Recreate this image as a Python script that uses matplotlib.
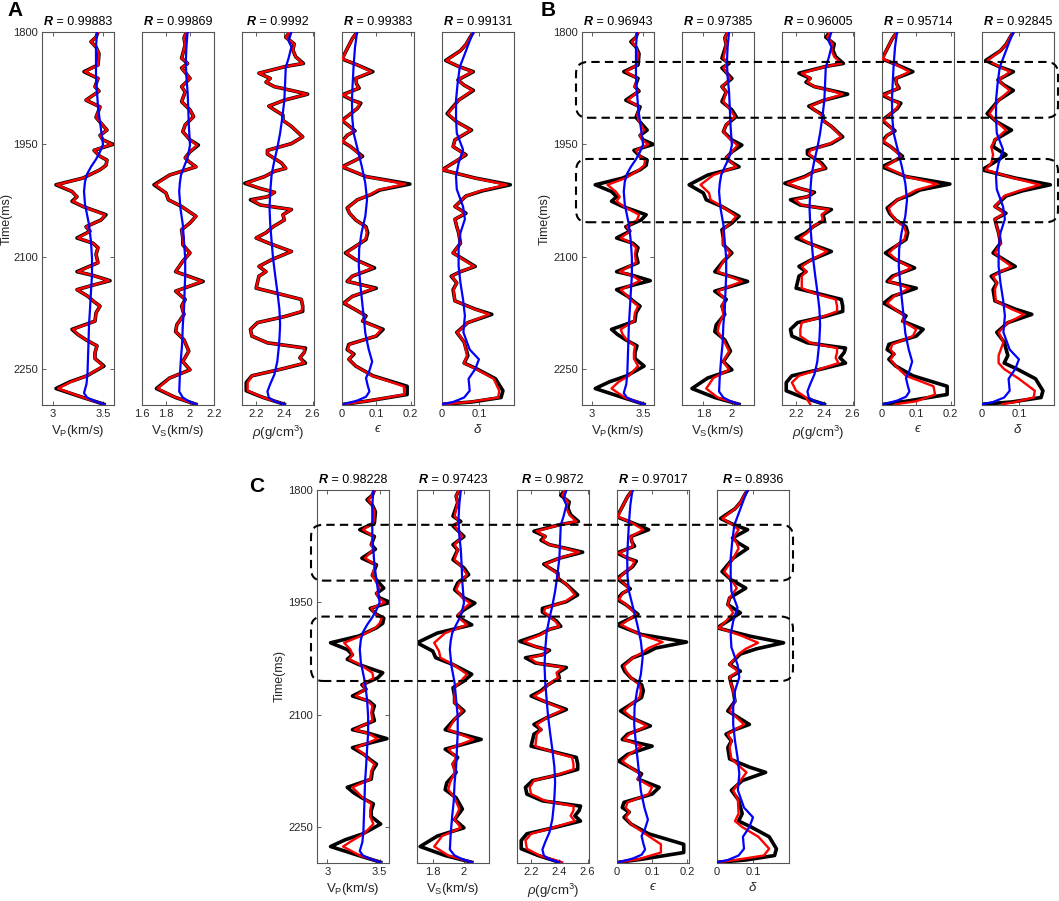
import matplotlib.pyplot as plt
from matplotlib.patches import FancyBboxPatch
from matplotlib.offsetbox import TextArea, HPacker, AnnotationBbox

plt.rcParams['font.family'] = ['Liberation Sans', 'DejaVu Sans']
plt.rcParams['mathtext.fontset'] = 'custom'
plt.rcParams['mathtext.rm'] = 'Liberation Sans'
plt.rcParams['mathtext.it'] = 'Liberation Sans:italic'
plt.rcParams['mathtext.bf'] = 'Liberation Sans:bold'

# ---- well logs (true = black, inverted = red, initial model = blue) ----
t_vp = [1800,1807,1813,1820,1829,1844,1853,1862,1873,1879,1891,1900,1914,1931,1938,1944,1950,1958,1966,1971,
        1978,1984,1995,2004,2013,2020,2026,2033,2044,2051,2060,2066,2075,2082,2088,2097,2108,2120,2125,2132,
        2138,2144,2153,2160,2166,2175,2186,2197,2204,2211,2219,2228,2236,2246,2259,2267,2276,2288,2297]
vp_true = [3.45,3.43,3.38,3.43,3.46,3.45,3.31,3.45,3.42,3.46,3.33,3.47,3.43,3.54,3.47,3.50,3.60,3.41,3.47,3.54,
           3.53,3.47,3.30,3.03,3.19,3.24,3.19,3.30,3.53,3.48,3.33,3.37,3.24,3.40,3.45,3.43,3.45,3.24,3.40,3.57,
           3.40,3.24,3.35,3.41,3.47,3.43,3.42,3.19,3.25,3.33,3.44,3.42,3.42,3.51,3.34,3.17,3.03,3.30,3.51]
vp_a = [3.45,3.43,3.38,3.43,3.46,3.45,3.32,3.45,3.42,3.46,3.33,3.47,3.43,3.54,3.47,3.50,3.59,3.41,3.47,3.54,
        3.53,3.47,3.30,3.04,3.19,3.24,3.20,3.30,3.52,3.48,3.33,3.37,3.25,3.40,3.45,3.43,3.45,3.25,3.40,3.56,
        3.40,3.24,3.35,3.41,3.47,3.43,3.42,3.20,3.25,3.33,3.44,3.42,3.42,3.50,3.34,3.18,3.05,3.30,3.51]
vp_b = [3.45,3.43,3.39,3.43,3.45,3.44,3.33,3.44,3.42,3.45,3.35,3.46,3.44,3.51,3.47,3.49,3.55,3.43,3.47,3.52,
        3.51,3.46,3.33,3.15,3.23,3.27,3.24,3.31,3.46,3.44,3.34,3.37,3.28,3.39,3.43,3.42,3.43,3.27,3.39,3.47,
        3.38,3.28,3.35,3.40,3.45,3.42,3.41,3.28,3.30,3.34,3.42,3.41,3.41,3.45,3.36,3.26,3.19,3.32,3.51]
vp_c = [3.45,3.43,3.39,3.43,3.45,3.44,3.34,3.44,3.42,3.44,3.36,3.46,3.43,3.50,3.47,3.49,3.55,3.42,3.46,3.52,
        3.50,3.46,3.32,3.16,3.22,3.24,3.21,3.31,3.43,3.44,3.34,3.36,3.27,3.39,3.43,3.42,3.43,3.26,3.39,3.48,
        3.38,3.27,3.35,3.40,3.45,3.42,3.41,3.24,3.29,3.34,3.42,3.41,3.41,3.44,3.35,3.25,3.15,3.31,3.51]
t_vp0 = [1800,1820,1840,1860,1880,1900,1920,1940,1950,1960,1970,1980,1990,2000,2013,2030,2057,2080,2102,2125,
         2146,2170,2191,2215,2235,2255,2270,2282,2288,2293,2297]
vp_init = [3.44,3.43,3.43,3.43,3.44,3.45,3.47,3.49,3.50,3.47,3.43,3.38,3.34,3.32,3.31,3.32,3.36,3.38,3.39,3.39,
           3.38,3.37,3.36,3.355,3.35,3.345,3.335,3.31,3.34,3.42,3.51]

t_vs = [1800,1808,1817,1835,1842,1848,1862,1873,1880,1893,1904,1913,1924,1933,1944,1951,1960,1968,1973,1980,
        1991,2004,2015,2024,2033,2046,2055,2064,2075,2084,2095,2106,2120,2133,2146,2157,2166,2177,2191,2200,
        2211,2226,2240,2251,2262,2276,2288,2297]
vs_true = [1.97,1.95,1.96,1.93,1.98,1.93,2.00,1.93,1.96,1.93,2.00,2.03,1.96,1.94,2.00,2.07,2.00,1.96,1.99,2.05,
           1.83,1.70,1.80,1.82,1.93,2.05,2.00,1.93,1.94,1.94,2.00,1.94,1.88,2.11,1.88,1.96,1.93,1.95,1.89,1.88,
           1.95,1.99,1.94,2.00,1.83,1.72,1.88,2.05]
vs_a = [1.97,1.95,1.96,1.93,1.98,1.93,2.00,1.93,1.96,1.93,2.00,2.03,1.96,1.94,2.00,2.06,2.00,1.96,1.99,2.05,
        1.83,1.71,1.80,1.82,1.93,2.05,2.00,1.93,1.94,1.94,2.00,1.94,1.88,2.10,1.88,1.96,1.93,1.95,1.89,1.88,
        1.95,1.99,1.94,2.00,1.83,1.73,1.88,2.05]
vs_b = [1.97,1.95,1.96,1.94,1.97,1.94,1.99,1.93,1.96,1.94,1.99,2.02,1.96,1.94,1.99,2.04,2.00,1.96,1.99,2.03,
        1.87,1.78,1.84,1.85,1.93,2.03,1.99,1.94,1.94,1.94,1.99,1.94,1.90,2.07,1.90,1.95,1.93,1.94,1.91,1.90,
        1.94,1.98,1.94,1.98,1.87,1.82,1.90,2.05]
vs_c = [1.97,1.95,1.96,1.94,1.97,1.94,1.99,1.94,1.96,1.94,1.99,2.02,1.97,1.95,1.99,2.04,1.99,1.96,1.98,2.02,
        1.88,1.81,1.84,1.85,1.93,2.02,1.98,1.94,1.94,1.94,1.99,1.94,1.90,2.06,1.90,1.95,1.93,1.94,1.91,1.90,
        1.94,1.97,1.94,1.98,1.86,1.81,1.90,2.05]
t_vs0 = [1800,1820,1840,1860,1880,1900,1924,1951,1968,1980,1991,2002,2013,2035,2057,2080,2102,2125,2146,2170,
         2191,2215,2235,2260,2280,2288,2293,2297]
vs_init = [1.98,1.97,1.965,1.97,1.98,1.985,1.99,2.00,1.98,1.95,1.925,1.915,1.91,1.92,1.94,1.95,1.96,1.96,1.955,1.95,
           1.94,1.935,1.925,1.915,1.91,1.94,1.99,2.05]

t_rho = [1800,1807,1816,1824,1833,1842,1846,1855,1862,1867,1873,1878,1883,1891,1899,1904,1911,1918,1926,1940,
         1949,1958,1963,1970,1975,1982,1986,1993,2002,2009,2014,2020,2024,2031,2037,2044,2051,2060,2068,2075,
         2082,2093,2104,2113,2120,2126,2142,2149,2157,2166,2173,2180,2188,2197,2206,2215,2222,2228,2235,2242,
         2250,2259,2268,2279,2288,2297]
rho_true = [2.44,2.41,2.47,2.46,2.48,2.535,2.41,2.22,2.30,2.27,2.33,2.45,2.565,2.40,2.29,2.33,2.39,2.39,2.45,2.53,
            2.45,2.28,2.28,2.34,2.38,2.41,2.33,2.26,2.12,2.23,2.33,2.28,2.16,2.23,2.45,2.39,2.40,2.32,2.27,2.20,
            2.29,2.45,2.31,2.22,2.27,2.22,2.20,2.35,2.52,2.53,2.53,2.40,2.21,2.16,2.17,2.28,2.55,2.54,2.51,2.55,
            2.38,2.17,2.13,2.13,2.25,2.40]
rho_a = [2.44,2.41,2.47,2.46,2.48,2.53,2.41,2.22,2.30,2.27,2.33,2.45,2.56,2.40,2.29,2.33,2.39,2.39,2.45,2.53,
         2.45,2.28,2.28,2.34,2.38,2.41,2.33,2.26,2.13,2.23,2.33,2.28,2.17,2.23,2.45,2.39,2.40,2.32,2.27,2.20,
         2.29,2.45,2.31,2.22,2.27,2.22,2.20,2.35,2.52,2.53,2.52,2.40,2.21,2.16,2.17,2.28,2.54,2.54,2.51,2.54,
         2.38,2.17,2.14,2.14,2.25,2.40]
rho_b = [2.44,2.42,2.46,2.45,2.47,2.52,2.41,2.24,2.30,2.28,2.33,2.44,2.53,2.40,2.30,2.33,2.38,2.39,2.45,2.52,
         2.44,2.30,2.29,2.34,2.37,2.40,2.33,2.27,2.14,2.23,2.32,2.28,2.19,2.24,2.43,2.38,2.39,2.32,2.28,2.23,
         2.29,2.42,2.31,2.24,2.27,2.24,2.24,2.33,2.48,2.49,2.49,2.39,2.24,2.23,2.23,2.30,2.49,2.49,2.48,2.50,
         2.37,2.22,2.17,2.20,2.27,2.30]
rho_c = [2.44,2.42,2.46,2.45,2.47,2.52,2.41,2.24,2.30,2.28,2.33,2.44,2.54,2.40,2.30,2.33,2.38,2.39,2.45,2.51,
         2.44,2.30,2.29,2.34,2.37,2.40,2.33,2.27,2.15,2.23,2.32,2.28,2.19,2.24,2.43,2.38,2.39,2.32,2.28,2.22,
         2.29,2.43,2.31,2.24,2.27,2.24,2.23,2.34,2.49,2.50,2.50,2.39,2.22,2.19,2.20,2.30,2.50,2.50,2.48,2.51,
         2.37,2.20,2.16,2.17,2.26,2.42]
t_rho0 = [1800,1806,1812,1820,1835,1847,1870,1891,1915,1935,1955,1971,1990,2013,2035,2057,2080,2102,2125,2146,
          2170,2191,2210,2222,2240,2257,2270,2280,2288,2293,2297]
rho_init = [2.45,2.44,2.43,2.45,2.43,2.41,2.405,2.40,2.385,2.37,2.35,2.33,2.31,2.30,2.295,2.30,2.31,2.32,2.335,2.35,
            2.365,2.37,2.365,2.36,2.35,2.33,2.30,2.28,2.29,2.33,2.40]

t_eps = [1800,1809,1818,1827,1836,1844,1853,1862,1869,1875,1884,1891,1895,1902,1911,1918,1926,1932,1938,1946,
         1953,1966,1971,1980,1993,2003,2011,2017,2024,2035,2042,2051,2060,2068,2077,2086,2095,2104,2115,2126,
         2133,2142,2153,2162,2171,2179,2186,2197,2206,2217,2224,2230,2237,2246,2259,2273,2284,2293,2297]
eps_true = [0.044,0.03,0.02,0.01,0.0,0.045,0.09,0.04,0.042,0.05,0.0,0.03,0.055,0.045,0.02,0.0,0.022,0.038,0.015,0.0,
            0.025,0.06,0.04,0.0,0.07,0.198,0.11,0.085,0.045,0.015,0.022,0.04,0.07,0.075,0.07,0.04,0.01,0.04,0.095,0.03,
            0.015,0.1,0.03,0.005,0.04,0.07,0.06,0.12,0.1,0.02,0.015,0.035,0.02,0.04,0.09,0.19,0.19,0.07,0.005]
eps_a = [0.044,0.03,0.02,0.01,0.002,0.045,0.085,0.04,0.042,0.048,0.003,0.03,0.052,0.045,0.02,0.002,0.022,0.036,0.015,0.002,
         0.025,0.057,0.04,0.002,0.07,0.185,0.105,0.082,0.045,0.016,0.022,0.04,0.068,0.073,0.068,0.04,0.012,0.04,0.09,0.03,
         0.016,0.095,0.03,0.007,0.04,0.068,0.06,0.115,0.098,0.022,0.016,0.033,0.02,0.04,0.088,0.18,0.182,0.07,0.005]
eps_b = [0.044,0.03,0.02,0.01,0.003,0.043,0.08,0.04,0.042,0.047,0.005,0.03,0.05,0.043,0.02,0.005,0.022,0.034,0.015,0.005,
         0.025,0.055,0.04,0.01,0.07,0.162,0.1,0.075,0.045,0.02,0.025,0.04,0.065,0.07,0.065,0.04,0.02,0.042,0.085,0.035,
         0.02,0.08,0.035,0.015,0.04,0.065,0.06,0.1,0.09,0.03,0.025,0.035,0.025,0.04,0.07,0.15,0.155,0.1,0.04]
eps_c = [0.044,0.03,0.02,0.01,0.004,0.043,0.075,0.04,0.042,0.046,0.006,0.03,0.05,0.043,0.02,0.006,0.022,0.034,0.016,0.006,
         0.026,0.054,0.04,0.012,0.065,0.13,0.09,0.072,0.045,0.02,0.026,0.04,0.064,0.068,0.064,0.04,0.02,0.042,0.085,0.035,
         0.02,0.07,0.035,0.015,0.04,0.065,0.06,0.1,0.09,0.03,0.025,0.035,0.025,0.04,0.08,0.125,0.125,0.06,0.005]
t_eps0 = [1800,1820,1844,1870,1891,1915,1935,1950,1965,1980,2002,2024,2046,2068,2090,2113,2135,2157,2179,2202,
          2224,2240,2252,2262,2272,2280,2287,2292,2297]
eps_init = [0.044,0.038,0.034,0.031,0.029,0.03,0.034,0.042,0.05,0.058,0.068,0.073,0.068,0.057,0.05,0.049,0.053,0.058,0.063,0.068,
            0.078,0.088,0.08,0.07,0.075,0.08,0.07,0.045,0.005]

t_del = [1800,1808,1816,1825,1838,1846,1853,1864,1871,1878,1891,1909,1920,1931,1944,1953,1964,1975,1984,1995,
         2004,2012,2019,2033,2042,2050,2060,2068,2082,2095,2104,2113,2120,2126,2135,2144,2159,2170,2177,2188,
         2201,2214,2232,2242,2250,2263,2279,2288,2294,2297]
del_true = [0.085,0.075,0.066,0.05,0.01,0.045,0.085,0.043,0.06,0.085,0.045,0.014,0.04,0.08,0.035,0.03,0.065,0.03,0.0,0.09,
            0.185,0.11,0.065,0.035,0.065,0.035,0.04,0.045,0.05,0.03,0.06,0.09,0.05,0.025,0.04,0.03,0.035,0.09,0.135,0.07,
            0.04,0.06,0.07,0.06,0.095,0.145,0.165,0.16,0.08,0.0]
del_a = [0.085,0.075,0.066,0.05,0.012,0.045,0.082,0.043,0.06,0.082,0.045,0.016,0.04,0.078,0.035,0.03,0.063,0.03,0.002,0.088,
         0.175,0.105,0.065,0.035,0.063,0.035,0.04,0.045,0.05,0.03,0.058,0.087,0.05,0.026,0.04,0.031,0.035,0.088,0.128,0.07,
         0.041,0.06,0.068,0.06,0.092,0.14,0.155,0.152,0.075,0.0]
del_b = [0.085,0.075,0.066,0.05,0.015,0.045,0.076,0.045,0.058,0.075,0.045,0.02,0.04,0.065,0.035,0.025,0.03,0.025,0.01,0.085,
         0.157,0.1,0.06,0.035,0.06,0.035,0.04,0.045,0.05,0.035,0.055,0.08,0.05,0.03,0.04,0.035,0.037,0.08,0.114,0.07,
         0.045,0.058,0.045,0.045,0.06,0.1,0.143,0.14,0.09,0.055]
del_c = [0.085,0.075,0.066,0.05,0.015,0.042,0.06,0.045,0.055,0.06,0.045,0.02,0.04,0.055,0.035,0.03,0.045,0.025,0.005,0.07,
         0.114,0.08,0.06,0.035,0.058,0.035,0.04,0.045,0.05,0.035,0.055,0.075,0.05,0.03,0.04,0.035,0.04,0.065,0.082,0.065,
         0.045,0.058,0.06,0.05,0.07,0.115,0.145,0.13,0.05,0.0]
t_del0 = [1800,1812,1825,1847,1870,1891,1915,1935,1957,1975,1993,2010,2033,2050,2068,2090,2113,2135,2157,2179,
          2201,2224,2237,2250,2263,2279,2288,2294,2297]
del_init = [0.085,0.075,0.065,0.048,0.042,0.038,0.038,0.04,0.057,0.045,0.038,0.04,0.057,0.062,0.05,0.045,0.045,0.05,0.057,0.062,
            0.058,0.075,0.1,0.09,0.072,0.075,0.06,0.03,0.0]

true_t = [t_vp, t_vs, t_rho, t_eps, t_del]
true_v = [vp_true, vs_true, rho_true, eps_true, del_true]
init_t = [t_vp0, t_vs0, t_rho0, t_eps0, t_del0]
init_v = [vp_init, vs_init, rho_init, eps_init, del_init]
red_v = {'A': [vp_a, vs_a, rho_a, eps_a, del_a],
         'B': [vp_b, vs_b, rho_b, eps_b, del_b],
         'C': [vp_c, vs_c, rho_c, eps_c, del_c]}

r_vals = {'A': ['0.99883', '0.99869', '0.9992', '0.99383', '0.99131'],
          'B': ['0.96943', '0.97385', '0.96005', '0.95714', '0.92845'],
          'C': ['0.98228', '0.97423', '0.9872', '0.97017', '0.8936']}

xlabels = ['V$_\\mathrm{P}$(km/s)', 'V$_\\mathrm{S}$(km/s)', '$\\rho$(g/cm$^3$)', '\u03f5', '$\\delta$']
xlims = {'A': [(2.89, 3.61), (1.6, 2.2), (2.1, 2.61), (0, 0.21), (0, 0.195)],
         'B': [(2.9, 3.607), (1.65, 2.155), (2.1, 2.61), (0, 0.21), (0, 0.195)],
         'C': [(2.9, 3.59), (1.7, 2.16), (2.1, 2.61), (0, 0.205), (0, 0.2)]}
xticks = {'A': [[3, 3.5], [1.6, 1.8, 2, 2.2], [2.2, 2.4, 2.6], [0, 0.1, 0.2], [0, 0.1]],
          'B': [[3, 3.5], [1.8, 2], [2.2, 2.4, 2.6], [0, 0.1, 0.2], [0, 0.1]],
          'C': [[3, 3.5], [1.8, 2], [2.2, 2.4, 2.6], [0, 0.1, 0.2], [0, 0.1]]}
time_ticks = [1800, 1950, 2100, 2250]
t_range = (1800, 2298)

# dashed boxes (time windows) in B and C
boxes = {'B': [(1840, 1914.5), (1969.5, 2054)],
         'C': [(1846.5, 1921), (1969, 2055)]}

W, H = 1059, 901
panel_pos = {'A': (42, 32), 'B': (582, 32), 'C': (317, 490)}   # left/top of first axis in px
ax_w, ax_h, step = 72, 373, 100
letter_pos = {'A': (15, 10), 'B': (548, 10), 'C': (257, 487)}
ylab_x = {'A': -0.40, 'B': -0.44, 'C': -0.43}

fig = plt.figure(figsize=(W / 100, H / 100), dpi=100)


def r_title(ax, val):
    ta1 = TextArea('R', textprops=dict(fontsize=9, fontweight='bold', fontstyle='italic'))
    ta2 = TextArea(' = ' + val, textprops=dict(fontsize=9))
    pack = HPacker(children=[ta1, ta2], align='baseline', pad=0, sep=0)
    ab = AnnotationBbox(pack, (0.5, 1.0), xycoords='axes fraction', box_alignment=(0.5, 0.0),
                        xybox=(0, 3), boxcoords='offset points', frameon=False, pad=0,
                        annotation_clip=False)
    ax.add_artist(ab)


def fmt(v):
    return ('%g' % v)


panel_axes = {}
for p in ['A', 'B', 'C']:
    x0, y0 = panel_pos[p]
    axs = []
    for i in range(5):
        ax = fig.add_axes([(x0 + step * i) / W, 1 - (y0 + ax_h) / H, ax_w / W, ax_h / H])
        ax.plot(true_v[i], true_t[i], color='black', lw=2.6, solid_joinstyle='round', zorder=2)
        ax.plot(red_v[p][i], true_t[i], color='#ff0000', lw=1.7, solid_joinstyle='round', zorder=3)
        ax.plot(init_v[i], init_t[i], color='#0000ff', lw=1.6, solid_joinstyle='round', zorder=4)
        ax.set_ylim(t_range[1], t_range[0])
        ax.set_xlim(*xlims[p][i])
        ax.set_xticks(xticks[p][i])
        ax.set_xticklabels([fmt(v) for v in xticks[p][i]])
        if i == 3:
            ax.set_xlabel(xlabels[i], fontsize=9.5, labelpad=3, color='#262626', fontstyle='italic')
        else:
            ax.set_xlabel(xlabels[i], fontsize=9.5, labelpad=3, color='#262626')
        ax.tick_params(axis='x', direction='in', top=True, length=3, width=0.6,
                       labelsize=8, colors='#444444', labelcolor='#262626', pad=3)
        if i == 0:
            ax.set_yticks(time_ticks)
            ax.tick_params(axis='y', direction='in', right=True, length=3, width=0.6,
                           labelsize=8, colors='#444444', labelcolor='#262626', pad=3)
            ax.set_ylabel('Time(ms)', fontsize=9, color='#262626')
            ax.yaxis.set_label_coords(ylab_x[p], 0.5)
        else:
            ax.set_yticks([])
        for s in ax.spines.values():
            s.set_color('#555555')
            s.set_linewidth(0.8)
        r_title(ax, r_vals[p][i])
        axs.append(ax)
    panel_axes[p] = axs
    lx, ly = letter_pos[p]
    fig.text(lx / W, 1 - ly / H, p, fontsize=15, fontweight='bold', ha='center', va='center')

# rounded dashed boxes spanning all five tracks
inv = fig.dpi_scale_trans.inverted()
for p, spans in boxes.items():
    axs = panel_axes[p]
    a0 = axs[0]
    xl = a0.get_position().x0 * W / 100 - 0.06
    xr = axs[-1].get_position().x1 * W / 100 + 0.04
    for t0, t1 in spans:
        ya = inv.transform(a0.transData.transform((a0.get_xlim()[0], t0)))[1]
        yb = inv.transform(a0.transData.transform((a0.get_xlim()[0], t1)))[1]
        box = FancyBboxPatch((xl, min(ya, yb)), xr - xl, abs(ya - yb),
                             boxstyle='round,pad=0,rounding_size=0.12',
                             transform=fig.dpi_scale_trans, fill=False, ec='black',
                             lw=1.5, ls=(0, (4, 2.5)), zorder=10)
        fig.add_artist(box)

fig.savefig('out.png', dpi=100)
